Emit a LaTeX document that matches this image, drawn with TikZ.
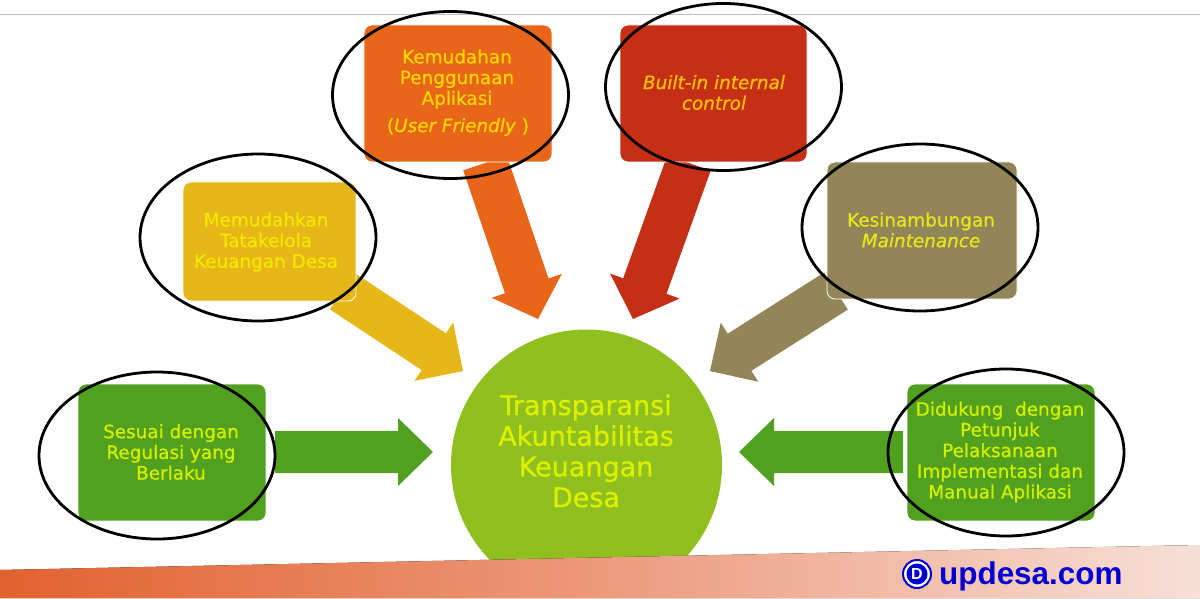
\documentclass[tikz,border=0pt]{standalone}
\usepackage{fontspec}
\setmainfont[FakeBold=0.7]{DejaVu Sans}
\newfontfamily\logofont{Liberation Sans}[BoldFont={Liberation Sans Bold}]
\usetikzlibrary{shapes.geometric,calc}
\definecolor{cgreen}{HTML}{52A020}
\definecolor{cyellow}{HTML}{E5B718}
\definecolor{corange}{HTML}{E8661A}
\definecolor{cred}{HTML}{C52F16}
\definecolor{colive}{HTML}{928558}
\definecolor{ccircle}{HTML}{90C020}
\definecolor{tgreen}{HTML}{D4F000}
\definecolor{tyellow}{HTML}{F5E800}
\definecolor{thub}{HTML}{DDF000}
\definecolor{torange}{HTML}{FFD500}
\definecolor{tred}{HTML}{FAC000}
\definecolor{tolive}{HTML}{E6E81A}
\definecolor{logoblue}{HTML}{0000D2}
\definecolor{ribL}{HTML}{E2622F}
\definecolor{ribM}{HTML}{EC9A7C}
\definecolor{ribR}{HTML}{F7E0D8}
\tikzset{
  panel/.style={rounded corners=8pt,draw=white,line width=.8pt,inner sep=0pt},
  ring/.style={ellipse,draw=black,line width=2.8pt,minimum width=236pt,minimum height=167pt,inner sep=0pt},
  caption/.style={align=center,inner sep=0pt,font=\fontsize{18.4}{20.7}\selectfont},
}
\newcommand{\blockarrow}[5]{% colour, tail, tip, shaft half-width, head half-width; head length fixed
  \path let \p1=(#2), \p2=(#3), \n1={atan2(\y2-\y1,\x2-\x1)} in
    coordinate (H) at ($(#3)!35pt!(#2)$)
    coordinate (Ha) at ($(H)+(\n1+90:#4pt)$)
    coordinate (Hb) at ($(H)+(\n1-90:#4pt)$)
    coordinate (Ba) at ($(H)+(\n1+90:#5pt)$)
    coordinate (Bb) at ($(H)+(\n1-90:#5pt)$)
    coordinate (Ta) at ($(#2)+(\n1+90:#4pt)$)
    coordinate (Tb) at ($(#2)+(\n1-90:#4pt)$);
  \fill[#1] (Ta)--(Ha)--(Ba)--(#3)--(Bb)--(Hb)--(Tb)--cycle;
}
\begin{document}
\begin{tikzpicture}[x=1pt,y=-1pt]
\useasboundingbox (0,0) rectangle (1200,599);
\fill[white] (0,0) rectangle (1200,599);
\coordinate (ruleL) at (0,14.5);
\coordinate (ruleR) at (1200,14.5);
\draw[black!25,line width=.8pt] (ruleL)--(ruleR);

% arrow ends
\coordinate (aGL) at (275,452);   \coordinate (tGL) at (433,452);
\coordinate (aY)  at (342,291);   \coordinate (tY)  at (463,371);
\coordinate (aO)  at (485,163);   \coordinate (tO)  at (538,319);
\coordinate (aR)  at (689,163);   \coordinate (tR)  at (633,319);
\coordinate (aOl) at (836,291);   \coordinate (tOl) at (710,371);
\coordinate (aGR) at (903,452);   \coordinate (tGR) at (739,452);

\blockarrow{cgreen}{aGL}{tGL}{21}{34}
\blockarrow{cyellow}{aY}{tY}{22}{35}
\blockarrow{corange}{aO}{tO}{23}{37}
\blockarrow{cred}{aR}{tR}{23}{37}
\blockarrow{colive}{aOl}{tOl}{22}{35}
\blockarrow{cgreen}{aGR}{tGR}{21}{34}

% panels
\node[panel,fill=cgreen,minimum width=188pt,minimum height=137pt] (pGL) at (172,452.5) {};
\node[panel,fill=cyellow,minimum width=173pt,minimum height=119pt] (pY) at (269.5,241.5) {};
\node[panel,fill=corange,minimum width=188pt,minimum height=137pt] (pO) at (458,93.5) {};
\node[panel,fill=cred,minimum width=187pt,minimum height=137pt] (pR) at (713.5,93.5) {};
\node[panel,fill=colive,minimum width=190pt,minimum height=137pt] (pOl) at (922,230.5) {};
\node[panel,fill=cgreen,minimum width=188pt,minimum height=137pt] (pGR) at (1001,452.5) {};

% captions
\node[caption,text=tgreen] (tx1) at (171,452) {Sesuai dengan\\Regulasi yang\\Berlaku};
\node[caption,text=tyellow] (tx2) at (266,242) {Memudahkan\\Tatakelola\\Keuangan Desa};
\node[caption,text=torange] (tx3) at (457,79) {Kemudahan\\Penggunaan\\Aplikasi};
\node[caption,text=torange] (tx3b) at (458,127) {(\textit{User Friendly} )};
\node[caption,text=tred] (tx4) at (714,92.5) {\textit{Built-in internal}\\\textit{control}};
\node[caption,text=tolive] (tx5) at (921,230) {Kesinambungan\\\textit{Maintenance}};
\node[caption,text=tgreen] (tx6) at (1000,452) {Didukung\ \ dengan\\Petunjuk\\Pelaksanaan\\Implementasi dan\\Manual Aplikasi};

% centre
\node[circle,fill=ccircle,minimum size=271pt,inner sep=0pt] (hub) at (586.5,465) {};
\node[align=center,inner sep=0pt,text=thub,font=\fontsize{27}{30.7}\selectfont] (hubtx) at (586,451) {Transparansi\\Akuntabilitas\\Keuangan\\Desa};

% rings
\node[ring] (r1) at (157,455.5) {};
\node[ring] (r2) at (258,237.5) {};
\node[ring] (r3) at (450.5,95) {};
\node[ring] (r4) at (723.5,87) {};
\node[ring] (r5) at (920,227.5) {};
\node[ring] (r6) at (1006,452.5) {};

% ribbon
\fill[white] (0,598) rectangle (1200,602);
\fill[left color=ribL,right color=ribR,middle color=ribM] (0,570)--(1200,545)--(1200,598)--(0,598)--cycle;

% logo
\node[circle,draw=logoblue,line width=2pt,fill=white,minimum size=28pt,inner sep=0pt] (logoA) at (917,574) {};
\node[circle,fill=logoblue,minimum size=21pt,inner sep=0pt,text=white,font=\logofont\bfseries\fontsize{16}{16}\selectfont] (logoB) at (917,574) {D};
\node[anchor=base west,inner sep=0pt,text=logoblue,font=\logofont\bfseries\fontsize{31.4}{32}\selectfont] (site) at (939,584) {updesa.com};
\end{tikzpicture}
\end{document}
